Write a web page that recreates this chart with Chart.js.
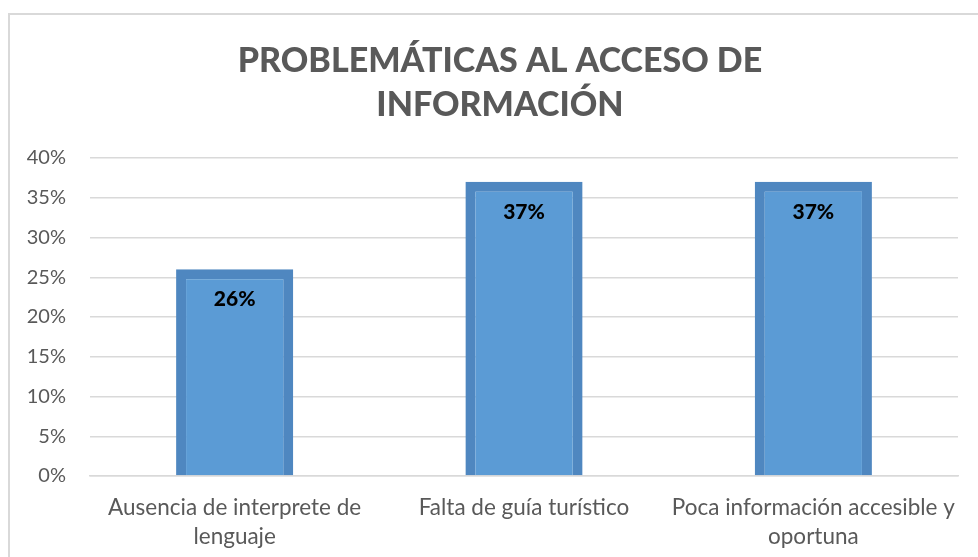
<!DOCTYPE html>
<html>
<head>
<meta charset="utf-8">
<script src="https://cdn.jsdelivr.net/npm/chart.js@4"></script>
<style>
  body { margin: 0; background: #fff; }
  #wrap { width: 978px; height: 557px; }
</style>
</head>
<body>
<div id="wrap"><canvas id="chart"></canvas></div>
<script>
// chart data
const categories = [
    ['Ausencia de interprete de', 'lenguaje'],
    ['Falta de guía turístico'],
    ['Poca información accesible y', 'oportuna']
];
const values = [26, 37, 37];
const titleLines = ['PROBLEMÁTICAS AL ACCESO DE', 'INFORMACIÓN'];

const grey = '#595959';
const font = 'Lato';

// outer frame + title + value labels
const decor = {
    id: 'decor',
    beforeDraw(chart) {
        const ctx = chart.ctx;
        ctx.save();
        ctx.fillStyle = '#fff';
        ctx.fillRect(0, 0, chart.width, chart.height);
        ctx.strokeStyle = '#d9d9d9';
        ctx.lineWidth = 2;
        ctx.strokeRect(9, 14, chart.width + 10, chart.height + 10);
        ctx.fillStyle = grey;
        ctx.font = `900 34px ${font}`;
        ctx.textAlign = 'center';
        ctx.textBaseline = 'middle';
        titleLines.forEach((t, i) => ctx.fillText(t, 500, 61 + i * 44));
        ctx.restore();
    },
    afterDatasetsDraw(chart) {
        const ctx = chart.ctx;
        ctx.save();
        ctx.fillStyle = '#000';
        ctx.font = `900 21px ${font}`;
        ctx.textAlign = 'center';
        ctx.textBaseline = 'middle';
        chart.getDatasetMeta(0).data.forEach((bar, i) => {
            ctx.fillText(values[i] + '%', bar.x, bar.y + 30);
        });
        ctx.restore();
    }
};

new Chart(document.getElementById('chart'), {
    type: 'bar',
    data: {
        labels: categories,
        datasets: [{
            data: values,
            backgroundColor: '#5b9bd5',
            borderColor: '#4f87c0',
            borderWidth: 10,
            barPercentage: 0.405,
            categoryPercentage: 1
        }]
    },
    options: {
        responsive: true,
        maintainAspectRatio: false,
        animation: false,
        layout: { padding: { top: 158, right: 20, bottom: 0, left: 0 } },
        plugins: { legend: { display: false }, tooltip: { enabled: false } },
        scales: {
            y: {
                min: 0,
                max: 40,
                ticks: {
                    stepSize: 5,
                    padding: 24,
                    color: grey,
                    font: { family: font, size: 20 },
                    callback: v => v + '%'
                },
                grid: { color: '#d9d9d9', lineWidth: 1.5, drawTicks: false },
                border: { display: false },
                afterFit: s => { s.width = 90; }
            },
            x: {
                ticks: {
                    padding: 17,
                    color: grey,
                    font: { family: font, size: 22.5, lineHeight: 1.3 },
                    maxRotation: 0,
                    autoSkip: false
                },
                grid: { display: false, drawTicks: false },
                border: { display: true, color: '#d9d9d9', width: 1.5 },
                afterFit: s => { s.height = 81; }
            }
        }
    },
    plugins: [decor]
});
</script>
</body>
</html>
